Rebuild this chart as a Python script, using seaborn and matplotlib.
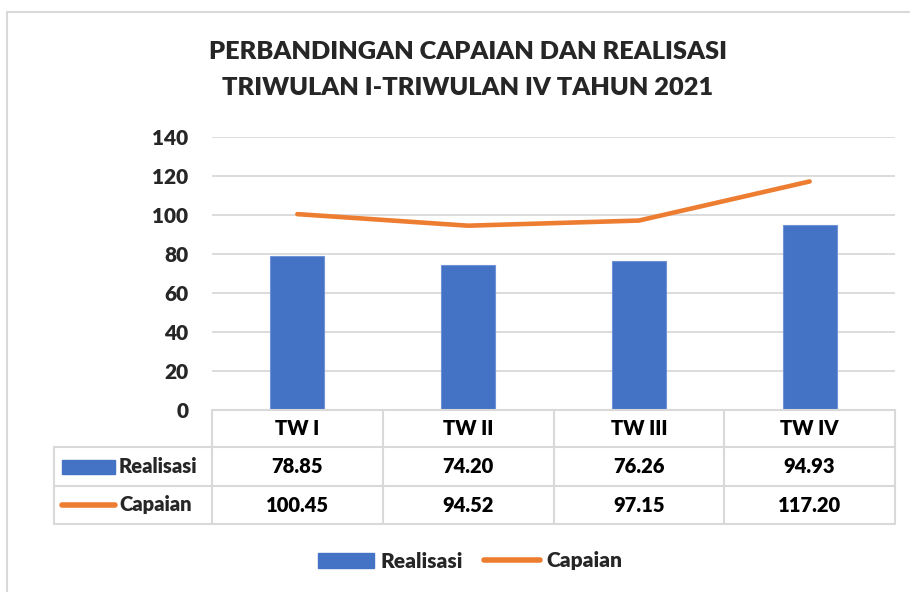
import matplotlib.pyplot as plt
import seaborn as sns
from matplotlib.patches import Rectangle
from matplotlib.lines import Line2D

# data
quarters = ["TW I", "TW II", "TW III", "TW IV"]
realisasi = [78.85, 74.20, 76.26, 94.93]
capaian = [100.45, 94.52, 97.15, 117.20]

BLUE = "#4472C4"
ORANGE = "#ED7D31"
GRID = "#D9D9D9"
W, H = 910, 592
WEIGHT = "heavy"

sns.set_theme(style="white")
plt.rcParams["font.family"] = ["Lato", "DejaVu Sans"]
plt.rcParams["font.weight"] = WEIGHT

fig = plt.figure(figsize=(W / 100, H / 100), dpi=100)


def fx(px):
    return px / W


def fy(py):
    return 1 - py / H


# outer chart border (top and left only visible)
fig.add_artist(Line2D([fx(7), 1], [fy(12), fy(12)], color=GRID, lw=1.5))
fig.add_artist(Line2D([fx(7), fx(7)], [fy(12), 0], color=GRID, lw=1.5))

# main plot area
left, right, top, bottom = 212, 895, 137, 410
ax = fig.add_axes([fx(left), fy(bottom), fx(right - left), (bottom - top) / H])
sns.barplot(x=quarters, y=realisasi, color=BLUE, width=0.316, ax=ax,
            saturation=1, edgecolor="#6F93D6", linewidth=0.8, zorder=3)
sns.lineplot(x=list(range(len(quarters))), y=capaian, color=ORANGE, lw=3.3,
             ax=ax, zorder=4, solid_capstyle="round")
ax.set_xlim(-0.5, len(quarters) - 0.5)
ax.set_ylim(0, 140)
ax.set_yticks(range(0, 141, 20))
ax.yaxis.grid(True, color=GRID, lw=1.3)
ax.set_axisbelow(True)
for s in ["top", "right", "left"]:
    ax.spines[s].set_visible(False)
ax.spines["bottom"].set_color(GRID)
ax.spines["bottom"].set_linewidth(1.3)
ax.set_xticks([])
ax.set_xlabel("")
ax.set_ylabel("")
ax.tick_params(axis="y", length=0, pad=17, labelsize=15)
for t in ax.get_yticklabels():
    t.set_fontweight(WEIGHT)

# data table under the plot
rows = [410, 447, 486, 524]
tab_left = 54
cols = [left + i * (right - left) / 4 for i in range(5)]
lkw = dict(color=GRID, lw=1.5)
fig.add_artist(Line2D([fx(left), fx(right)], [fy(rows[0])] * 2, **lkw))
for r in rows[1:]:
    fig.add_artist(Line2D([fx(tab_left), fx(right)], [fy(r)] * 2, **lkw))
for c in cols:
    fig.add_artist(Line2D([fx(c)] * 2, [fy(rows[0]), fy(rows[-1])], **lkw))
fig.add_artist(Line2D([fx(tab_left)] * 2, [fy(rows[1]), fy(rows[-1])], **lkw))

tkw = dict(ha="center", va="center", fontsize=14.5, fontweight=WEIGHT, color="black")
for i, q in enumerate(quarters):
    cx = fx((cols[i] + cols[i + 1]) / 2)
    fig.text(cx, fy((rows[0] + rows[1]) / 2), q, **tkw)
    fig.text(cx, fy((rows[1] + rows[2]) / 2), f"{realisasi[i]:.2f}", **tkw)
    fig.text(cx, fy((rows[2] + rows[3]) / 2), f"{capaian[i]:.2f}", **tkw)

# series keys in the table
ry = (rows[1] + rows[2]) / 2
fig.add_artist(Rectangle((fx(62), fy(ry + 7)), fx(53), 14 / H, color=BLUE))
fig.text(fx(119), fy(ry), "Realisasi", ha="left", va="center",
         fontsize=14.5, fontweight=WEIGHT)
cy = (rows[2] + rows[3]) / 2
fig.add_artist(Line2D([fx(62), fx(115)], [fy(cy)] * 2, color=ORANGE, lw=4,
                      solid_capstyle="round"))
fig.text(fx(119), fy(cy), "Capaian", ha="left", va="center",
         fontsize=14.5, fontweight=WEIGHT)

# legend
handles = [Rectangle((0, 0), 1, 1, color=BLUE),
           Line2D([], [], color=ORANGE, lw=4, solid_capstyle="round")]
fig.legend(handles, ["Realisasi", "Capaian"], loc="center",
           bbox_to_anchor=(fx(470), fy(561)), ncol=2, frameon=False,
           prop={"size": 15, "weight": WEIGHT}, handlelength=2.7,
           handleheight=0.7, handletextpad=0.3, columnspacing=1.0)

# title
fig.text(fx(468), fy(52), "PERBANDINGAN CAPAIAN DAN REALISASI", ha="center",
         va="center", fontsize=18.3, fontweight=WEIGHT)
fig.text(fx(468), fy(88), "TRIWULAN I-TRIWULAN IV TAHUN 2021", ha="center",
         va="center", fontsize=18.3, fontweight=WEIGHT)

fig.savefig("out.png", dpi=100)
